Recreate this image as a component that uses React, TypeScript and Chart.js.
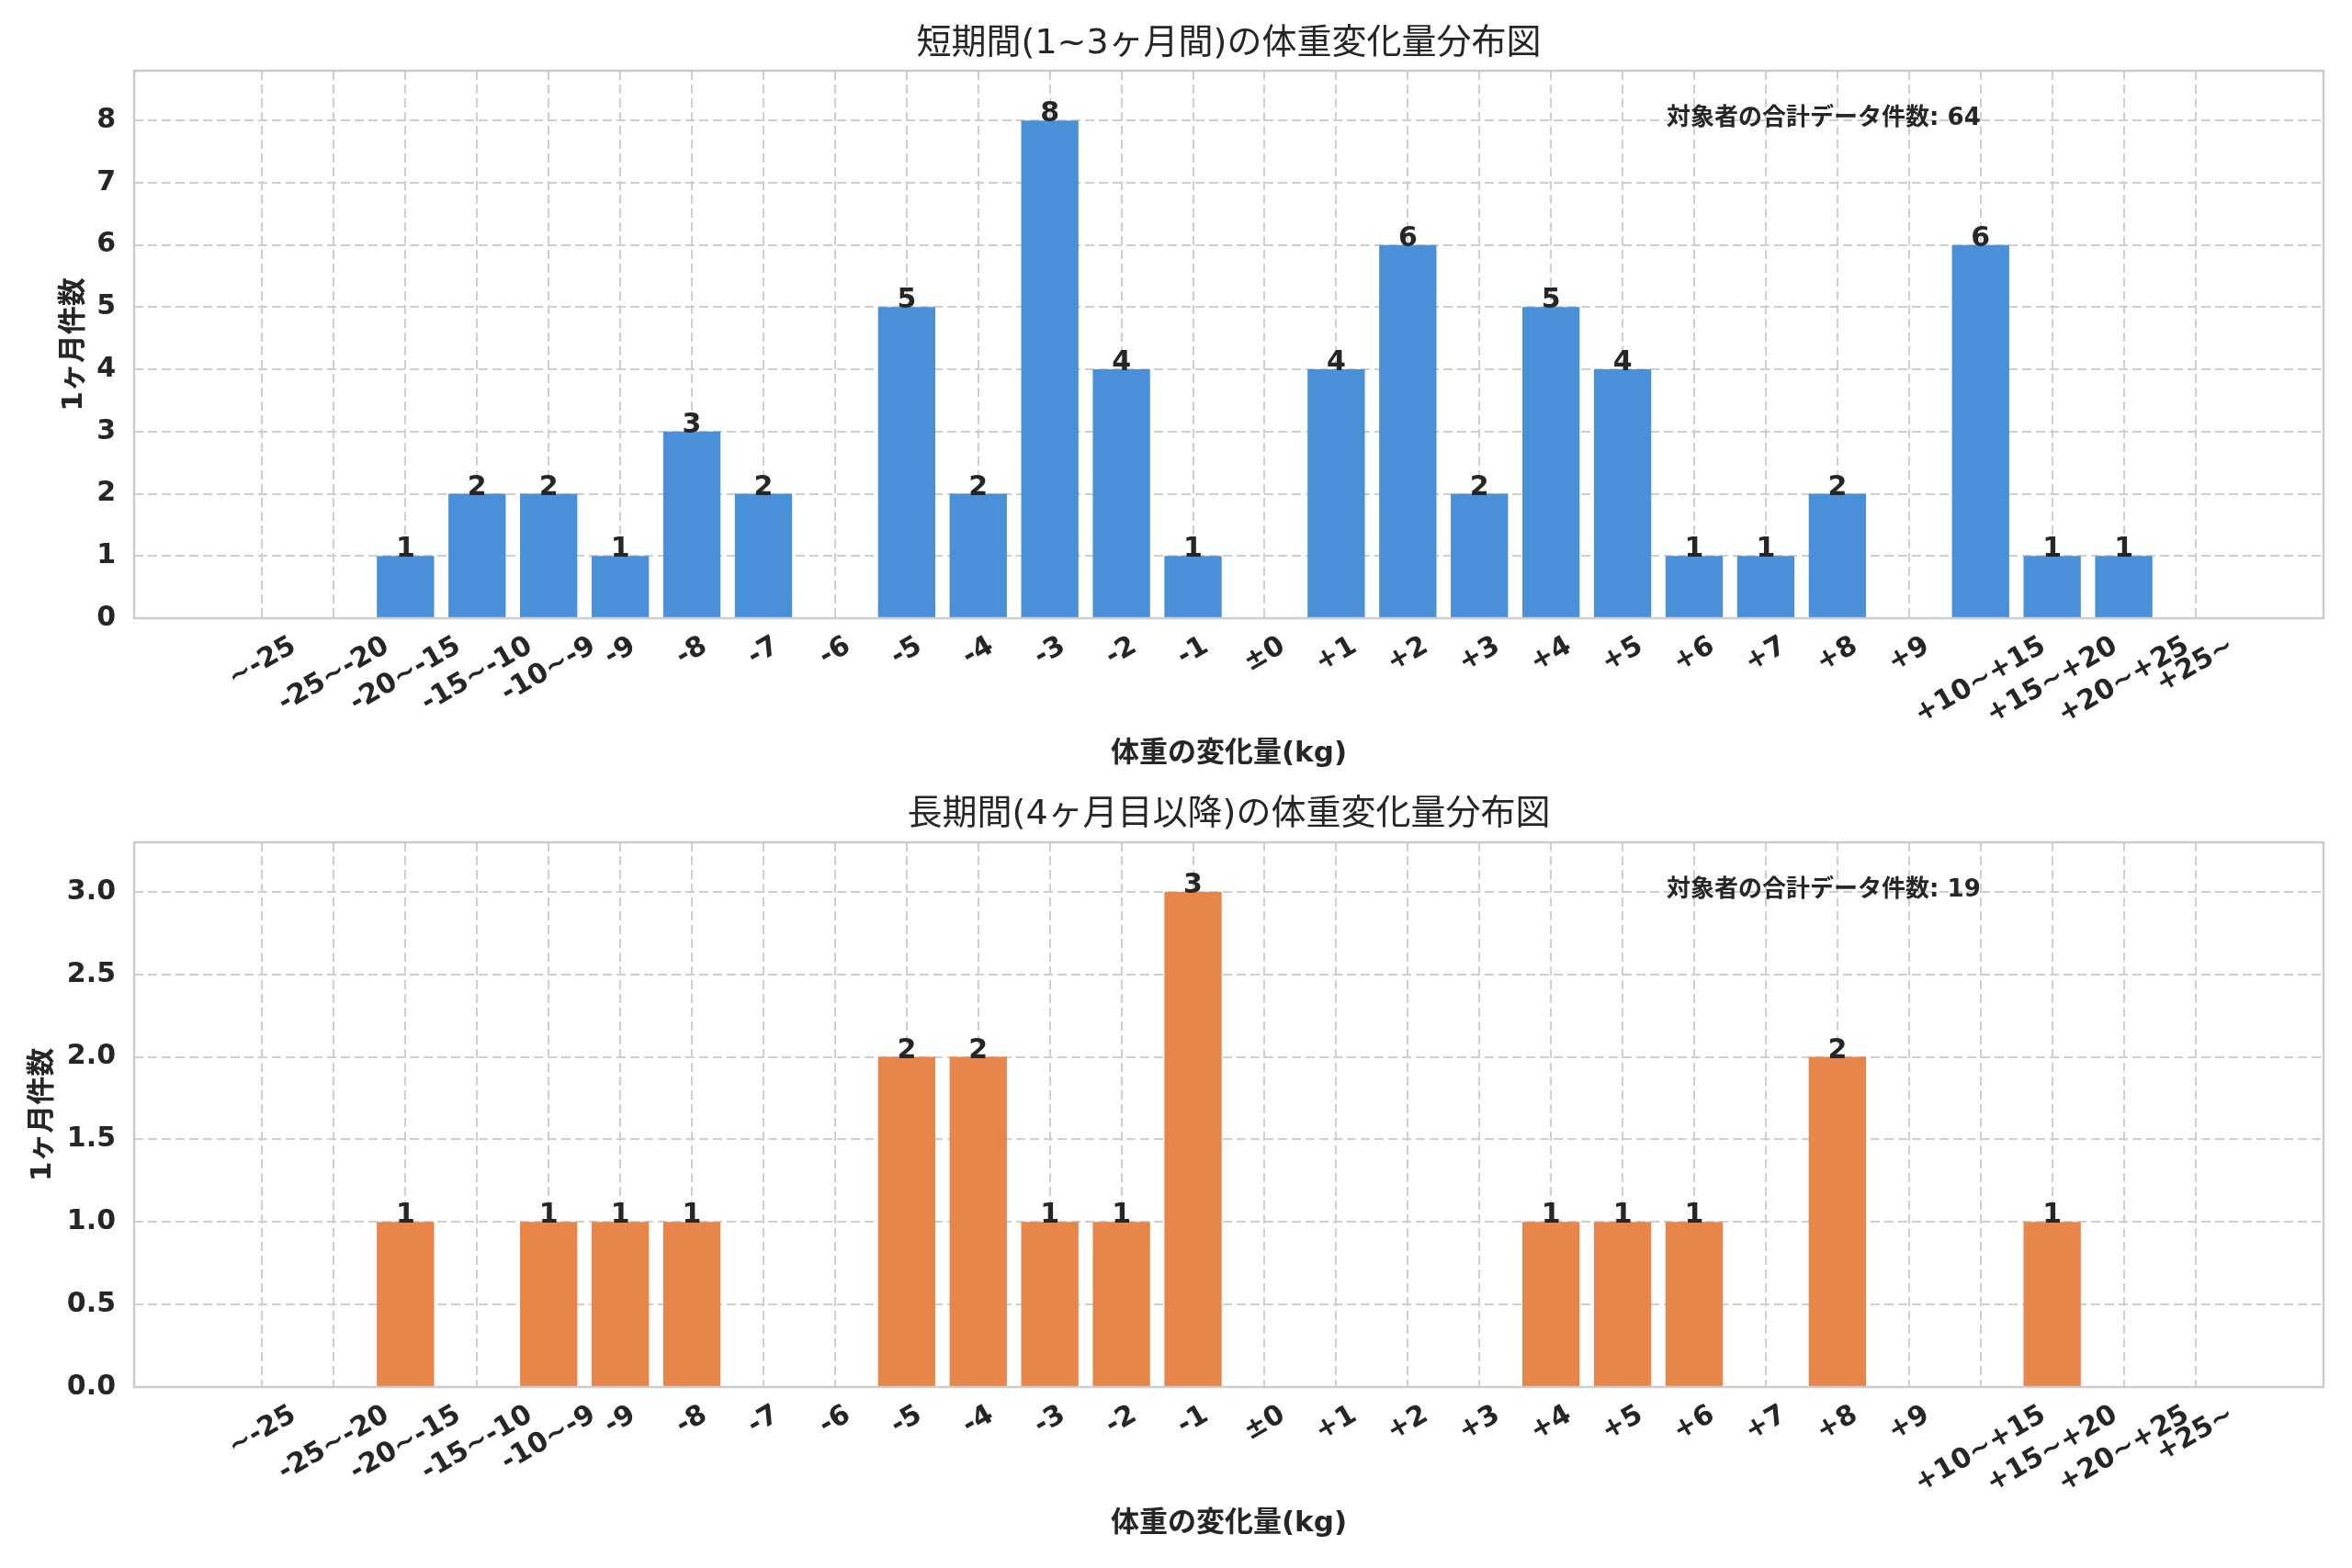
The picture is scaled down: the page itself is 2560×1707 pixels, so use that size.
import { useEffect, useRef } from "react";
import { Chart, registerables } from "chart.js";
Chart.register(...registerables);

const FONT = "'DejaVu Sans', 'Noto Sans CJK JP', sans-serif";
const INK = "#262626";
const GRID = "#cfcfcf";

// weight change bins (kg)
const categories = [
  "~-25", "-25~-20", "-20~-15", "-15~-10", "-10~-9",
  "-9", "-8", "-7", "-6", "-5", "-4", "-3", "-2", "-1",
  "±0",
  "+1", "+2", "+3", "+4", "+5", "+6", "+7", "+8", "+9",
  "+10~+15", "+15~+20", "+20~+25", "+25~",
];
const shortTermCounts = [0, 0, 1, 2, 2, 1, 3, 2, 0, 5, 2, 8, 4, 1, 0, 4, 6, 2, 5, 4, 1, 1, 2, 0, 6, 1, 1, 0];
const longTermCounts = [0, 0, 1, 0, 1, 1, 1, 0, 0, 2, 2, 1, 1, 3, 0, 0, 0, 0, 1, 1, 1, 0, 2, 0, 0, 1, 0, 0];
const shortTermYTicks = [0, 1, 2, 3, 4, 5, 6, 7, 8];
const longTermYTicks = [0, 0.5, 1.0, 1.5, 2.0, 2.5, 3.0];

const shortTermTitle = "短期間(1~3ヶ月間)の体重変化量分布図";
const longTermTitle = "長期間(4ヶ月目以降)の体重変化量分布図";
const xTitle = "体重の変化量(kg)";
const yTitle = "1ヶ月件数";
const totalLabel = "対象者の合計データ件数";

const TICK_PX = 30;

const panelText = {
  id: "panelText",
  afterDraw(chart, _args, opts) {
    const { ctx, chartArea: a, scales } = chart;
    const x = scales.x;
    ctx.save();

    // frame
    ctx.strokeStyle = "#cccccc";
    ctx.lineWidth = 2.5;
    ctx.strokeRect(a.left, a.top, a.right - a.left, a.bottom - a.top);

    ctx.fillStyle = INK;

    // value labels
    ctx.font = `bold 30px ${FONT}`;
    ctx.textAlign = "center";
    ctx.textBaseline = "alphabetic";
    const meta = chart.getDatasetMeta(0);
    meta.data.forEach((bar, i) => {
      const v = opts.counts[i];
      if (v > 0) ctx.fillText(String(v), bar.x, bar.y + 1);
    });

    // x tick labels, rotated 30deg and centred on the tick
    ctx.font = `bold ${TICK_PX}px ${FONT}`;
    ctx.textBaseline = "middle";
    const s = Math.sin(Math.PI / 6);
    const c = Math.cos(Math.PI / 6);
    categories.forEach((lab, i) => {
      const px = x.getPixelForValue(i);
      const w = ctx.measureText(lab).width;
      const h = TICK_PX * 1.17;
      const H = w * s + h * c;
      const cy = a.bottom + 13 + H / 2;
      ctx.save();
      ctx.translate(px, cy);
      ctx.rotate(-Math.PI / 6);
      ctx.fillText(lab, 0, 0);
      ctx.restore();
    });

    // titles
    const cx = (a.left + a.right) / 2;
    ctx.font = `38px ${FONT}`;
    ctx.fillText(opts.title, cx, opts.titleY);

    ctx.font = `bold 31px ${FONT}`;
    ctx.fillText(xTitle, cx, opts.xTitleY);

    ctx.save();
    ctx.translate(opts.yTitleX, (a.top + a.bottom) / 2);
    ctx.rotate(-Math.PI / 2);
    ctx.fillText(yTitle, 0, 0);
    ctx.restore();

    // total annotation
    ctx.font = `bold 26px ${FONT}`;
    ctx.textAlign = "left";
    ctx.fillText(`${totalLabel}: ${opts.total}`, a.left + 0.7 * (a.right - a.left), a.top + 52);

    ctx.restore();
  },
};

function BarPanel({ title, counts, color, yTicks, yMax, decimals, height, areaTop, xAxisHeight, titleY, xTitleY, yTitleX }) {
  const canvasRef = useRef(null);
  const chartRef = useRef(null);

  useEffect(() => {
    const ctx = canvasRef.current?.getContext("2d");
    const n = categories.length;
    const span = (n - 1) + 0.8;
    const total = counts.reduce((p, v) => p + v, 0);
    chartRef.current = new Chart(ctx, {
      type: "bar",
      data: {
        datasets: [
          {
            data: counts.map((v, i) => ({ x: i, y: v })),
            backgroundColor: color,
            borderWidth: 0,
            barPercentage: 0.8,
            categoryPercentage: 1.0,
          },
        ],
      },
      options: {
        responsive: false,
        animation: false,
        devicePixelRatio: 1,
        layout: { padding: { top: areaTop, right: 31, left: 0, bottom: 0 } },
        plugins: {
          legend: { display: false },
          tooltip: { enabled: false },
          panelText: { title, counts, total, titleY, xTitleY, yTitleX },
        },
        scales: {
          x: {
            type: "linear",
            offset: false,
            min: -0.4 - 0.05 * span,
            max: n - 1 + 0.4 + 0.05 * span,
            afterBuildTicks: (scale) => {
              scale.ticks = categories.map((_, i) => ({ value: i }));
            },
            afterFit: (scale) => {
              scale.height = xAxisHeight;
            },
            ticks: { display: false },
            grid: { offset: false, color: GRID, lineWidth: 2, drawTicks: false },
            border: { display: false, dash: [10, 5] },
          },
          y: {
            min: 0,
            max: yMax,
            afterBuildTicks: (scale) => {
              scale.ticks = yTicks.map((v) => ({ value: v }));
            },
            afterFit: (scale) => {
              scale.width = 146;
            },
            ticks: {
              padding: 20,
              color: INK,
              font: { family: FONT, size: TICK_PX, weight: "bold" },
              callback: (v) => (decimals ? Number(v).toFixed(1) : String(v)),
            },
            grid: { color: GRID, lineWidth: 2, drawTicks: false },
            border: { display: false, dash: [10, 5] },
          },
        },
      },
      plugins: [panelText],
    });

    return () => {
      chartRef.current?.destroy();
    };
  }, []);

  return <canvas ref={canvasRef} width={2560} height={height} style={{ display: "block" }} />;
}

export default function App() {
  useEffect(() => {
    document.body.style.margin = "0";
    document.body.style.background = "#ffffff";
  }, []);

  return (
    <div style={{ width: 2560, background: "#ffffff" }}>
      <BarPanel
        title={shortTermTitle}
        counts={shortTermCounts}
        color="#4a90d9"
        yTicks={shortTermYTicks}
        yMax={8.8}
        decimals={false}
        height={853}
        areaTop={77}
        xAxisHeight={180}
        titleY={48}
        xTitleY={821}
        yTitleX={81}
      />
      <BarPanel
        title={longTermTitle}
        counts={longTermCounts}
        color="#e8854a"
        yTicks={longTermYTicks}
        yMax={3.3}
        decimals={true}
        height={854}
        areaTop={64}
        xAxisHeight={197}
        titleY={34}
        xTitleY={806}
        yTitleX={47}
      />
    </div>
  );
}
